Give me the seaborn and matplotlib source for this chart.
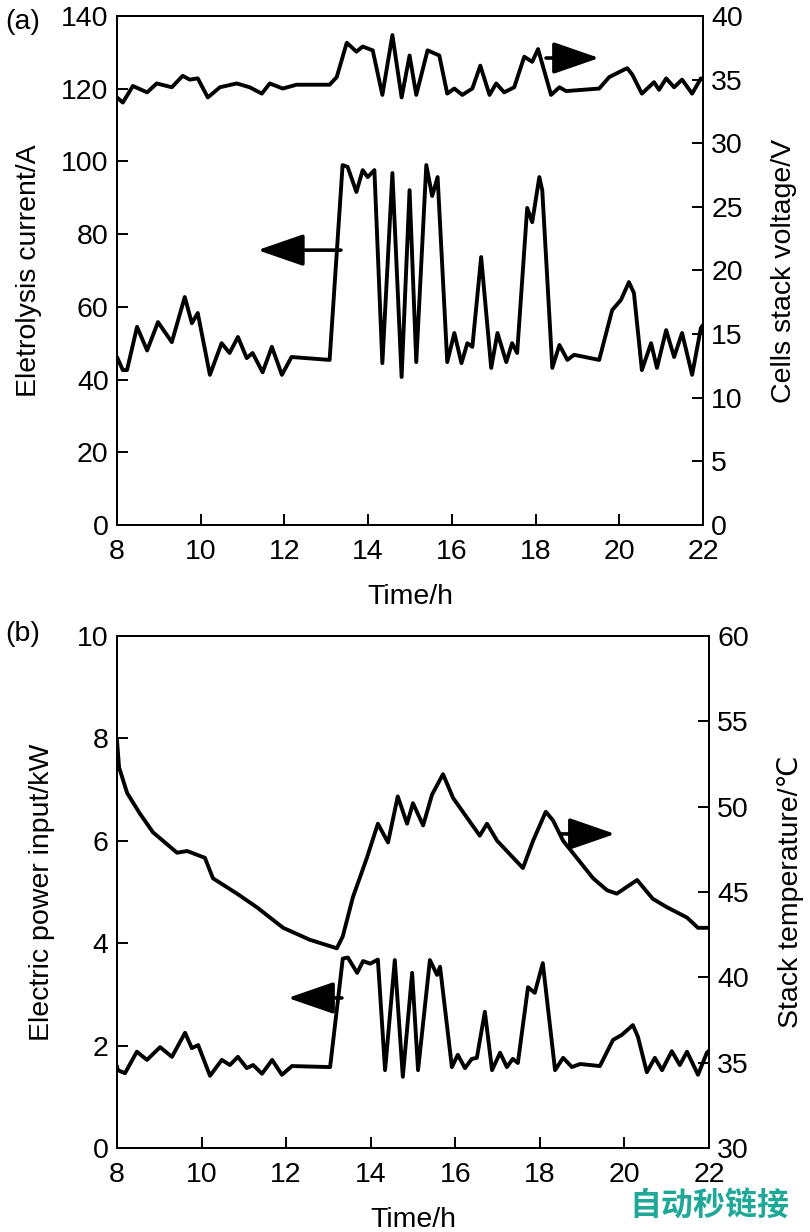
import matplotlib
matplotlib.use('Agg')
import matplotlib.pyplot as plt
import seaborn as sns

sns.set_style('ticks')
plt.rcParams.update({
    'font.family': ['Liberation Sans', 'DejaVu Sans'],
    'font.size': 20.5,
    'text.color': 'black', 'axes.labelcolor': 'black',
    'xtick.color': 'black', 'ytick.color': 'black',
    'axes.edgecolor': 'black',
    'axes.linewidth': 1.4,
    'xtick.direction': 'in', 'ytick.direction': 'in',
    'xtick.major.size': 8, 'ytick.major.size': 8,
    'xtick.major.width': 1.4, 'ytick.major.width': 1.4,
    'xtick.labelsize': 20.5, 'ytick.labelsize': 20.5,
    'axes.labelsize': 20.5,
})

# (a) electrolysis current, A
t_cur = [8.0, 8.14, 8.24, 8.48, 8.72, 8.98, 9.31, 9.62, 9.79, 9.93,
         10.22, 10.50, 10.69, 10.89, 11.10, 11.24, 11.48, 11.70, 11.94, 12.17,
         13.08, 13.39, 13.51, 13.72, 13.87, 13.99, 14.15, 14.34, 14.58, 14.80,
         14.99, 15.15, 15.39, 15.53, 15.66, 15.89, 16.06, 16.23, 16.37, 16.49,
         16.70, 16.94, 17.09, 17.30, 17.44, 17.56, 17.80, 17.92, 18.09, 18.16,
         18.40, 18.57, 18.76, 18.92, 19.52, 19.83, 20.04, 20.23, 20.35, 20.54,
         20.76, 20.90, 21.12, 21.31, 21.50, 21.74, 21.95, 22.0]
current = [46.2, 42.6, 42.6, 54.5, 48.0, 55.8, 50.3, 62.7, 55.5, 58.3,
           41.3, 50.0, 47.3, 51.7, 45.9, 47.3, 42.0, 49.0, 41.3, 46.2,
           45.4, 99.0, 98.5, 91.6, 97.6, 95.7, 97.6, 44.5, 96.8, 40.7,
           92.1, 44.8, 99.0, 90.5, 95.7, 44.8, 52.8, 44.5, 50.0, 49.0,
           73.7, 43.2, 52.8, 44.8, 50.0, 47.3, 87.2, 83.3, 95.7, 92.1,
           43.2, 49.5, 45.4, 46.8, 45.4, 59.1, 61.9, 66.8, 63.8, 42.6,
           50.0, 43.2, 53.6, 46.2, 52.8, 41.3, 54.2, 55.0]

# (a) cells stack voltage, V
t_volt = [8.0, 8.14, 8.38, 8.72, 8.95, 9.31, 9.57, 9.74, 9.93, 10.17,
          10.46, 10.86, 11.17, 11.46, 11.65, 11.96, 12.29, 13.08, 13.25, 13.49,
          13.72, 13.87, 14.11, 14.34, 14.58, 14.80, 14.99, 15.15, 15.42, 15.70,
          15.89, 16.06, 16.25, 16.49, 16.68, 16.90, 17.06, 17.25, 17.49, 17.73,
          17.92, 18.06, 18.37, 18.57, 18.73, 19.52, 19.76, 20.00, 20.19, 20.31,
          20.54, 20.83, 20.95, 21.12, 21.31, 21.50, 21.74, 21.95, 22.0]
voltage = [33.6, 33.2, 34.5, 34.0, 34.7, 34.4, 35.3, 35.0, 35.1, 33.6,
           34.4, 34.7, 34.4, 33.9, 34.7, 34.3, 34.6, 34.6, 35.2, 37.9,
           37.2, 37.6, 37.3, 33.8, 38.5, 33.6, 36.9, 33.8, 37.3, 36.9,
           33.9, 34.3, 33.8, 34.3, 36.1, 33.8, 34.7, 34.0, 34.4, 36.8,
           36.4, 37.4, 33.8, 34.4, 34.1, 34.3, 35.2, 35.6, 35.9, 35.4,
           33.9, 34.8, 34.2, 35.1, 34.4, 35.0, 33.9, 35.1, 35.0]

# (b) electric power input, kW
t_pow = [8.0, 8.02, 8.19, 8.47, 8.71, 9.02, 9.30, 9.61, 9.77, 9.92,
         10.20, 10.48, 10.67, 10.86, 11.07, 11.22, 11.43, 11.67, 11.90, 12.14,
         13.04, 13.34, 13.46, 13.68, 13.82, 13.99, 14.17, 14.34, 14.57, 14.76,
         14.98, 15.12, 15.40, 15.57, 15.64, 15.92, 16.06, 16.23, 16.39, 16.51,
         16.70, 16.87, 17.06, 17.22, 17.36, 17.48, 17.72, 17.88, 18.07, 18.36,
         18.55, 18.76, 18.95, 19.42, 19.73, 19.94, 20.20, 20.32, 20.53, 20.72,
         20.89, 21.12, 21.31, 21.48, 21.74, 21.95, 22.0]
power = [1.60, 1.52, 1.46, 1.88, 1.72, 1.97, 1.78, 2.25, 1.95, 2.01,
         1.41, 1.72, 1.62, 1.78, 1.56, 1.62, 1.45, 1.72, 1.43, 1.60,
         1.58, 3.70, 3.72, 3.42, 3.65, 3.60, 3.68, 1.52, 3.67, 1.39,
         3.42, 1.52, 3.67, 3.38, 3.54, 1.58, 1.82, 1.56, 1.74, 1.76,
         2.66, 1.52, 1.86, 1.58, 1.74, 1.66, 3.14, 3.03, 3.61, 1.52,
         1.76, 1.58, 1.64, 1.60, 2.11, 2.21, 2.40, 2.17, 1.48, 1.76,
         1.52, 1.89, 1.62, 1.88, 1.43, 1.86, 1.90]

# (b) stack temperature, deg C
t_temp = [8.0, 8.05, 8.24, 8.54, 8.85, 9.42, 9.66, 10.08, 10.27, 10.84,
          11.31, 11.93, 12.56, 13.20, 13.34, 13.58, 13.91, 14.17, 14.41, 14.64,
          14.86, 15.00, 15.24, 15.45, 15.71, 15.95, 16.35, 16.58, 16.75, 16.99,
          17.60, 17.84, 18.14, 18.31, 18.55, 19.26, 19.59, 19.82, 20.06, 20.30,
          20.67, 21.01, 21.48, 21.74, 21.98]
temp = [53.9, 52.3, 50.8, 49.6, 48.5, 47.3, 47.4, 47.0, 45.8, 44.9,
        44.1, 42.9, 42.2, 41.7, 42.4, 44.7, 47.0, 49.0, 47.9, 50.6,
        49.0, 50.2, 48.9, 50.7, 51.9, 50.5, 49.1, 48.3, 49.0, 48.0,
        46.4, 48.0, 49.7, 49.2, 48.0, 45.8, 45.1, 44.9, 45.3, 45.7,
        44.6, 44.1, 43.5, 42.9, 42.9]

LW = 2.8
arrow_kw = dict(arrowstyle='-|>,head_length=1.3,head_width=0.45',
                mutation_scale=22, lw=2.6, color='black', shrinkA=0, shrinkB=0)

fig = plt.figure(figsize=(8.1, 12.32), dpi=100)
ax1 = fig.add_axes([0.1444, 0.5739, 0.7235, 0.4131])
ax2 = fig.add_axes([0.1444, 0.0682, 0.7309, 0.4156])

# ---- panel (a)
sns.lineplot(x=t_cur, y=current, ax=ax1, color='black', lw=LW, estimator=None, sort=False)
ax1.set_xlim(8, 22)
ax1.set_ylim(0, 140)
ax1.set_xticks(range(8, 23, 2))
ax1.set_yticks(range(0, 141, 20))
ax1.set_xlabel('Time/h', labelpad=14)
ax1.set_ylabel('Eletrolysis current/A', labelpad=14)
ax1r = ax1.twinx()
sns.lineplot(x=t_volt, y=voltage, ax=ax1r, color='black', lw=LW, estimator=None, sort=False)
ax1r.set_ylim(0, 40)
ax1r.set_yticks(range(0, 41, 5))
ax1r.set_ylabel('Cells stack voltage/V', labelpad=20)
ax1.annotate('', xy=(11.36, 75.6), xytext=(13.35, 75.6), arrowprops=arrow_kw)
ax1r.annotate('', xy=(19.52, 36.7), xytext=(18.25, 36.7), arrowprops=arrow_kw)
fig.text(0.006, 0.982, '(a)', fontsize=20.5, va='center', ha='left')

# ---- panel (b)
sns.lineplot(x=t_pow, y=power, ax=ax2, color='black', lw=LW, estimator=None, sort=False)
ax2.set_xlim(8, 22)
ax2.set_ylim(0, 10)
ax2.set_xticks(range(8, 23, 2))
ax2.set_yticks(range(0, 11, 2))
ax2.set_xlabel('Time/h', labelpad=14)
ax2.set_ylabel('Electric power input/kW', labelpad=16)
ax2r = ax2.twinx()
sns.lineplot(x=t_temp, y=temp, ax=ax2r, color='black', lw=LW, estimator=None, sort=False)
ax2r.set_ylim(30, 60)
ax2r.set_yticks(range(30, 61, 5))
ax2r.set_ylabel('Stack temperature/\u2103', labelpad=20)
ax2.annotate('', xy=(12.04, 2.93), xytext=(13.32, 2.93), arrowprops=arrow_kw)
ax2r.annotate('', xy=(19.78, 48.4), xytext=(18.48, 48.4), arrowprops=arrow_kw)
fig.text(0.006, 0.485, '(b)', fontsize=20.5, va='center', ha='left')

for a in (ax1, ax2):
    a.tick_params(axis='y', which='both', left=True, right=False, pad=6)
    a.tick_params(axis='x', which='both', top=False, bottom=True, pad=10)
for a in (ax1r, ax2r):
    a.tick_params(axis='y', which='both', left=False, right=True, pad=6)
    for s in a.spines.values():
        s.set_linewidth(1.4)

fig.text(0.975, 0.008, '自动秒链接', fontsize=23, color='#1FA898', fontweight='bold',
         ha='right', va='bottom', family=['Noto Sans CJK SC', 'DejaVu Sans'])

fig.savefig('out.png', dpi=100)
